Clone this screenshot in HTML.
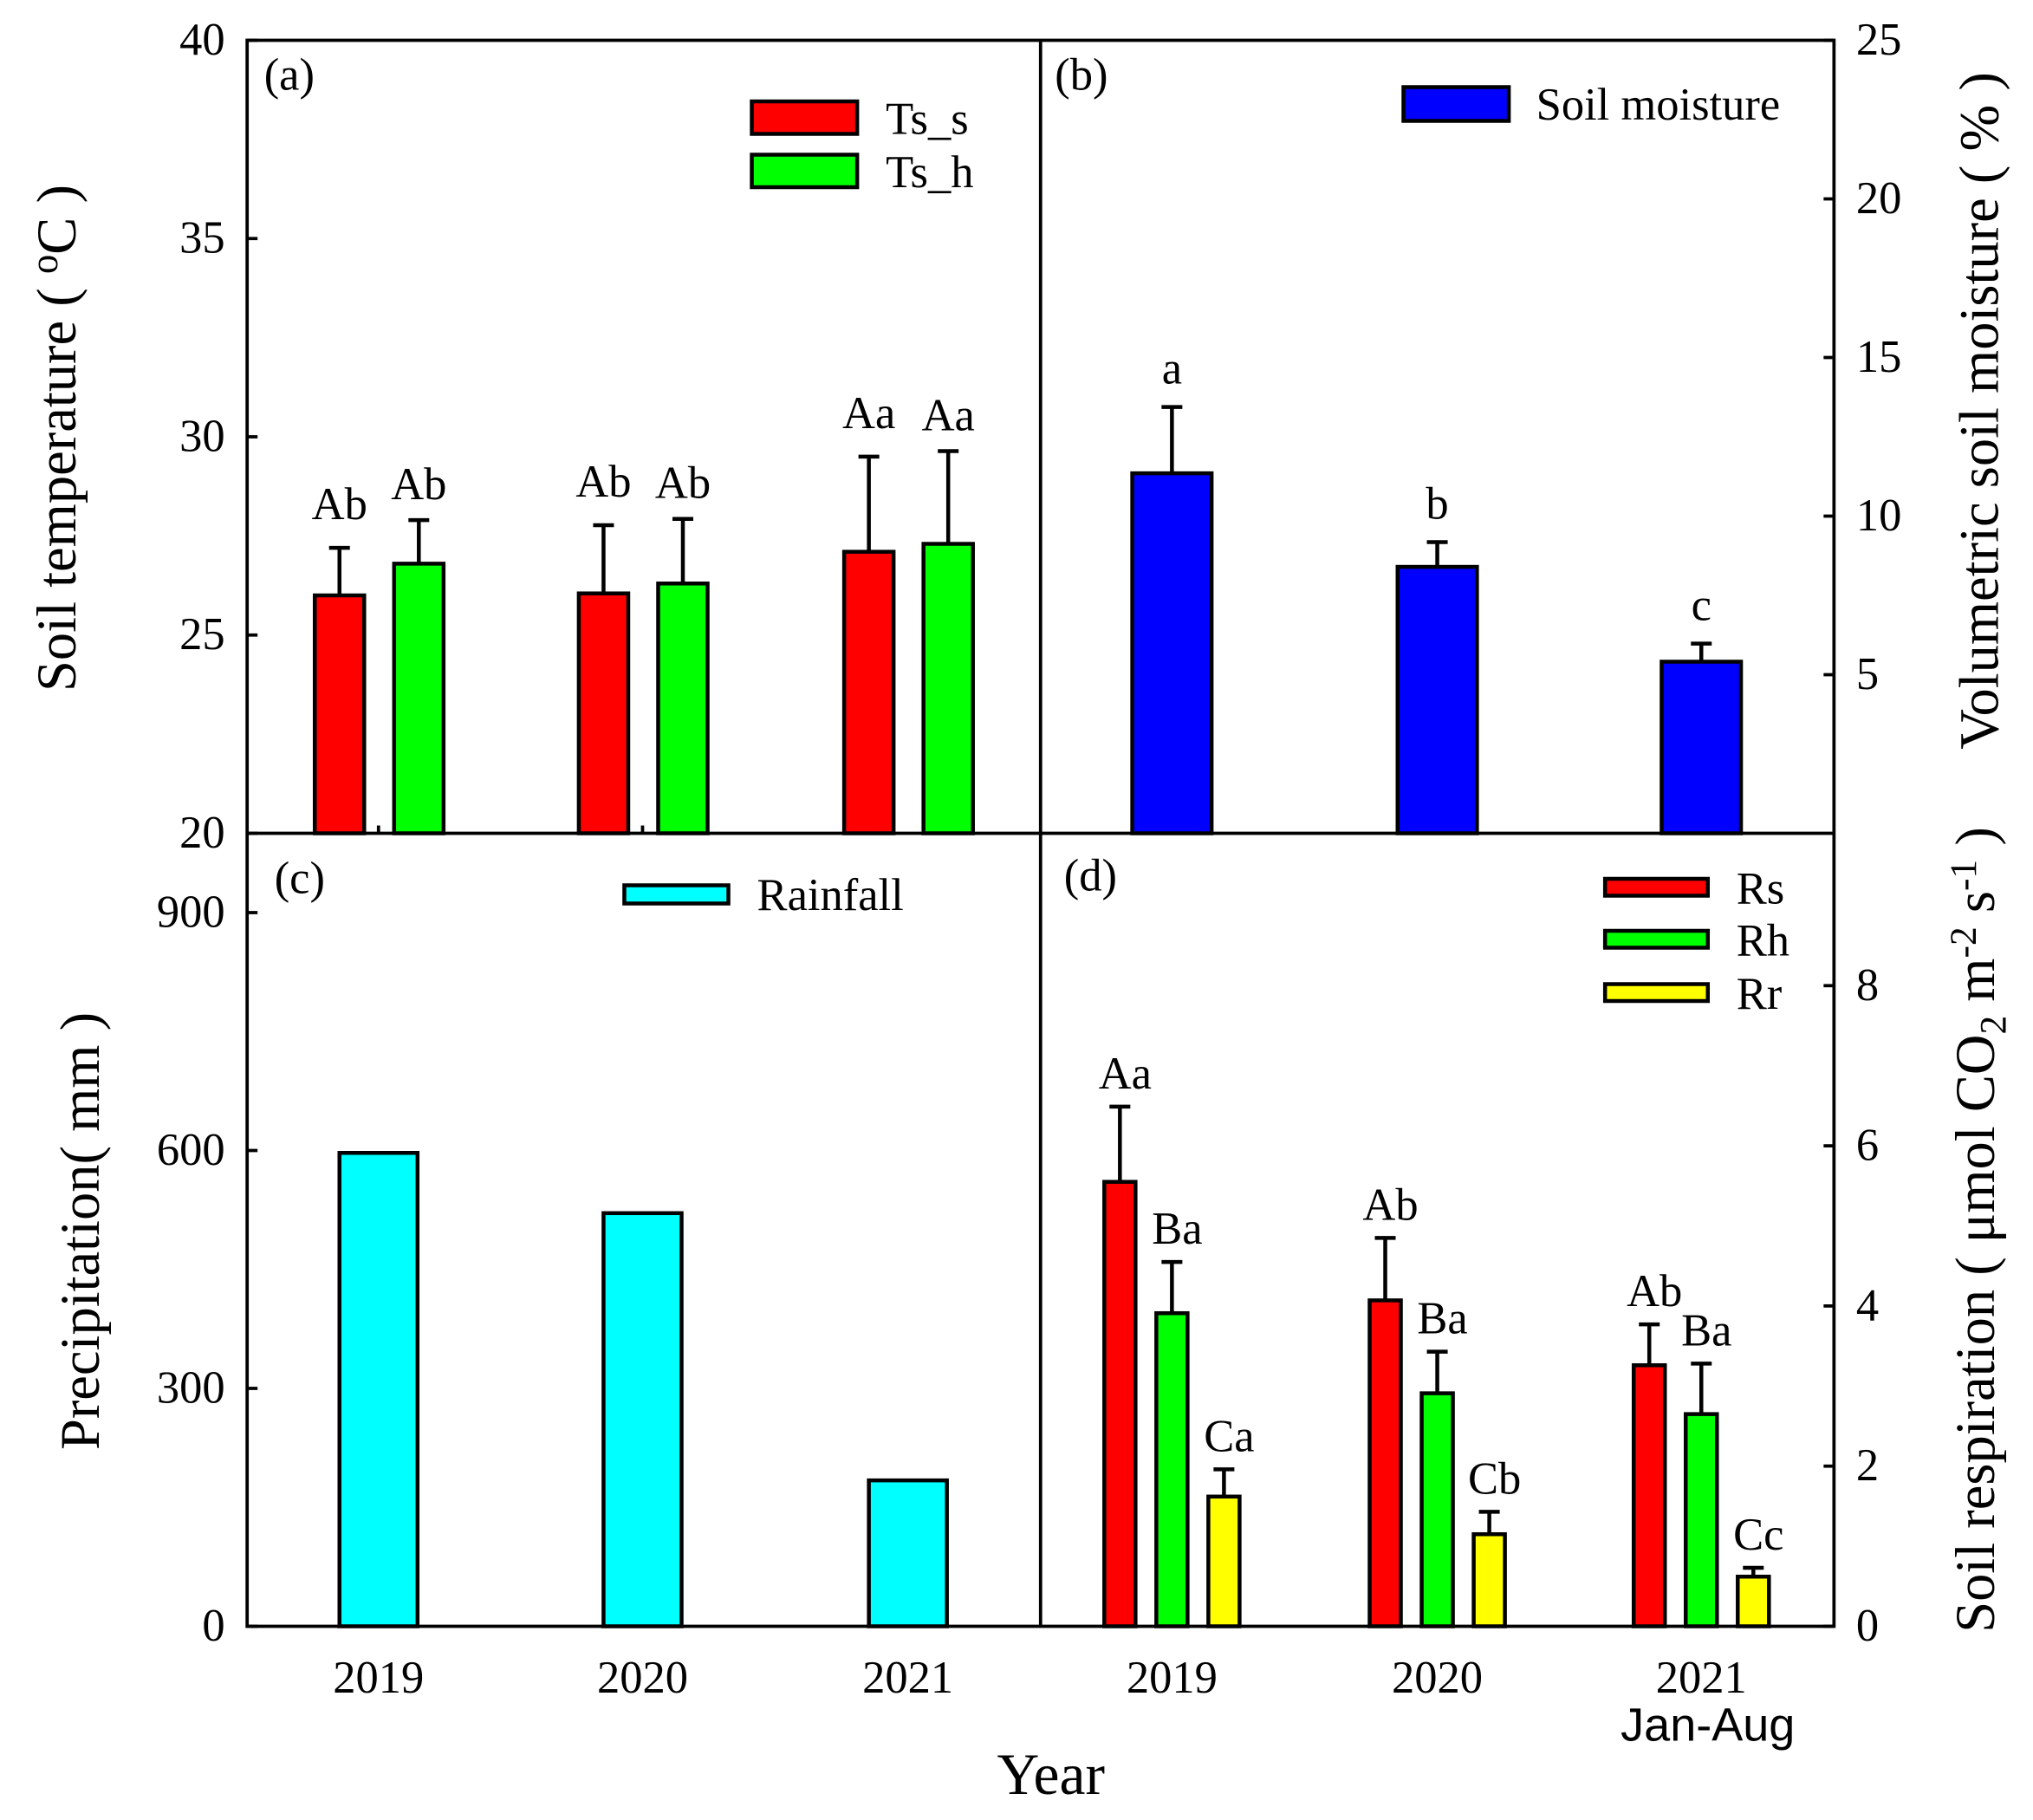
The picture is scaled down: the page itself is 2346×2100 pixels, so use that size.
<!DOCTYPE html>
<html><head><meta charset="utf-8"><style>html,body{margin:0;padding:0;background:#fff}svg{display:block}text{font-family:"Liberation Serif",serif;fill:#000}</style></head>
<body>
<svg id="chart" width="2346" height="2100" viewBox="0 0 1563 1400" preserveAspectRatio="none" xmlns="http://www.w3.org/2000/svg"></svg>
<script>
const years = ["2019","2020","2021"];
// panel a
const tsS = [26.0, 26.05, 27.1];
const tsSErr = [27.2, 27.77, 29.5];
const tsH = [26.8, 26.3, 27.3];
const tsHErr = [27.9, 27.93, 29.64];
const tsSLab = ["Ab","Ab","Aa"];
const tsHLab = ["Ab","Ab","Aa"];
// panel b
const moist = [11.35, 8.4, 5.41];
const moistErr = [13.44, 9.18, 5.98];
const moistLab = ["a","b","c"];
// panel c
const rain = [597, 521, 184];
// panel d
const rs = [5.55, 4.07, 3.26];
const rsErr = [6.49, 4.85, 3.77];
const rh = [3.91, 2.91, 2.65];
const rhErr = [4.55, 3.43, 3.28];
const rr = [1.62, 1.15, 0.62];
const rrErr = [1.96, 1.43, 0.73];
const rsLab = ["Aa","Ab","Ab"], rhLab = ["Ba","Ba","Ba"], rrLab = ["Ca","Cb","Cc"];
const ticksA = [20,25,30,35,40], ticksB = [5,10,15,20,25], ticksC = [0,300,600,900], ticksD = [0,2,4,6,8];

const svg = document.getElementById('chart');
const NS = "http://www.w3.org/2000/svg";
function el(tag, attrs, parent, txt){const e=document.createElementNS(NS,tag);for(const k in attrs)e.setAttribute(k,attrs[k]);if(txt!==undefined)e.textContent=txt;(parent||svg).appendChild(e);return e;}
const L=190,M=800,R=1410,T=31,MID=641,B=1251;
const cL=[291,494,698], cR=[901,1105,1308];
const yA=v=>MID-(v-20)*30.5, yB=v=>MID-v*24.4, yC=v=>B-v*0.61, yD=v=>B-v*61.6;
const FS=35;

function bar(x,w,top,base,fill,name){const r=el('rect',{x:x-w/2,y:top,width:w,height:base-top,fill:fill,stroke:'#000','stroke-width':3});

}
function err(x,top,errTop,name){const g=el('g',{stroke:'#000','stroke-width':3});


el('line',{x1:x,y1:top,x2:x,y2:errTop},g);el('line',{x1:x-8,y1:errTop,x2:x+8,y2:errTop},g);}
function txt(x,y,s,size,name,anchor){const t=el('text',{x:x,y:y,'font-size':size,'text-anchor':anchor||'middle'},svg,s);

return t;}

years.forEach((yr,i)=>{
  const xr=cL[i]-30, xg=cL[i]+31;
  bar(xr,38,yA(tsS[i]),MID,'#ff0000','bar-ts-s-'+yr); err(xr,yA(tsS[i]),yA(tsSErr[i]),'error-ts-s-'+yr);
  txt(xr,yA(tsSErr[i])-22,tsSLab[i],FS,'label-ts-s-'+yr);
  bar(xg,38,yA(tsH[i]),MID,'#00ff00','bar-ts-h-'+yr); err(xg,yA(tsH[i]),yA(tsHErr[i]),'error-ts-h-'+yr);
  txt(xg,yA(tsHErr[i])-16,tsHLab[i],FS,'label-ts-h-'+yr);
  bar(cR[i],61,yB(moist[i]),MID,'#0000ff','bar-moisture-'+yr); err(cR[i],yB(moist[i]),yB(moistErr[i]),'error-moisture-'+yr);
  txt(cR[i],yB(moistErr[i])-18,moistLab[i],FS,'label-moisture-'+yr);
  bar(cL[i],60,yC(rain[i]),B,'#00ffff','bar-rainfall-'+yr);
  const xs=[cR[i]-40,cR[i],cR[i]+40], vals=[rs[i],rh[i],rr[i]], es=[rsErr[i],rhErr[i],rrErr[i]], labs=[rsLab[i],rhLab[i],rrLab[i]], cols=['#ff0000','#00ff00','#ffff00'], nm=['rs','rh','rr'];
  xs.forEach((x,j)=>{bar(x,24,yD(vals[j]),B,cols[j],'bar-'+nm[j]+'-'+yr);err(x,yD(vals[j]),yD(es[j]),'error-'+nm[j]+'-'+yr);
    txt(x+4,yD(es[j])-14,labs[j],FS,'label-'+nm[j]+'-'+yr);});
});

const fr=el('g',{stroke:'#000','stroke-width':2.5,fill:'none'});


el('rect',{x:L,y:T,width:R-L,height:B-T},fr);
el('line',{x1:M,y1:T,x2:M,y2:B},fr);
el('line',{x1:L,y1:MID,x2:R,y2:MID},fr);
[291,494].forEach(x=>el('line',{x1:x,y1:MID,x2:x,y2:MID-6},fr));

ticksA.forEach(v=>{el('line',{x1:L,y1:yA(v),x2:L+8,y2:yA(v),stroke:'#000','stroke-width':2.5});txt(173,yA(v)+11,String(v),FS,'y-tick-a-'+v,'end');});
ticksB.forEach(v=>{el('line',{x1:R,y1:yB(v),x2:R-8,y2:yB(v),stroke:'#000','stroke-width':2.5});txt(1427,yB(v)+11,String(v),FS,'y-tick-b-'+v,'start');});
ticksC.forEach(v=>{el('line',{x1:L,y1:yC(v),x2:L+8,y2:yC(v),stroke:'#000','stroke-width':2.5});txt(173,yC(v)+11,String(v),FS,'y-tick-c-'+v,'end');});
ticksD.forEach(v=>{el('line',{x1:R,y1:yD(v),x2:R-8,y2:yD(v),stroke:'#000','stroke-width':2.5});txt(1427,yD(v)+11,String(v),FS,'y-tick-d-'+v,'start');});
years.forEach((yr,i)=>{txt(cL[i],1302,yr,FS,'x-tick-c-'+yr);txt(cR[i],1302,yr,FS,'x-tick-d-'+yr);});
const ja=txt(1313,1339,'Jan-Aug',36,'x-note-jan-aug');ja.style.fontFamily='"Liberation Sans",sans-serif';

txt(203,69,'(a)',FS,'panel-label-a','start');txt(811,69,'(b)',FS,'panel-label-b','start');
txt(211,687,'(c)',FS,'panel-label-c','start');txt(818,685,'(d)',FS,'panel-label-d','start');

function leg(x,y,w,h,fill,label,tx,ty,name){const g=el('g',{});


el('rect',{x:x,y:y,width:w,height:h,fill:fill,stroke:'#000','stroke-width':3},g);el('text',{x:tx,y:ty,'font-size':FS},g,label);}
leg(578,78,81,25,'#ff0000','Ts_s',681,103,'legend-ts-s');
leg(578,119,81,25,'#00ff00','Ts_h',681,144,'legend-ts-h');
leg(1079,67,81,26,'#0000ff','Soil moisture',1181,92,'legend-soil-moisture');
leg(480,681,80,14,'#00ffff','Rainfall',582,700,'legend-rainfall');
leg(1234,676,79,13,'#ff0000','Rs',1335,695,'legend-rs');
leg(1234,716,79,13,'#00ff00','Rh',1335,735,'legend-rh');
leg(1234,757,79,13,'#ffff00','Rr',1335,776,'legend-rr');

function vt(x,y,html,name){const t=el('text',{x:0,y:0,'font-size':43,'text-anchor':'middle',transform:`translate(${x},${y}) rotate(-90)`});t.innerHTML=html;

}
vt(58,337,'Soil temperature ( <tspan dy="-14" font-size="30">o</tspan><tspan dy="14">C )</tspan>','y-axis-title-temperature');
vt(76,947,'Precipitation( mm )','y-axis-title-precipitation');
vt(1536,316,'Volumetric soil moisture ( % )','y-axis-title-moisture');
vt(1533,946,'Soil respiration ( μmol CO<tspan dy="9" font-size="29">2</tspan><tspan dy="-9"> m</tspan><tspan dy="-14" font-size="29">-2</tspan><tspan dy="14"> s</tspan><tspan dy="-14" font-size="29">-1</tspan><tspan dy="14"> )</tspan>','y-axis-title-respiration');
txt(808,1380,'Year',45,'x-axis-title');
</script>
</body></html>
